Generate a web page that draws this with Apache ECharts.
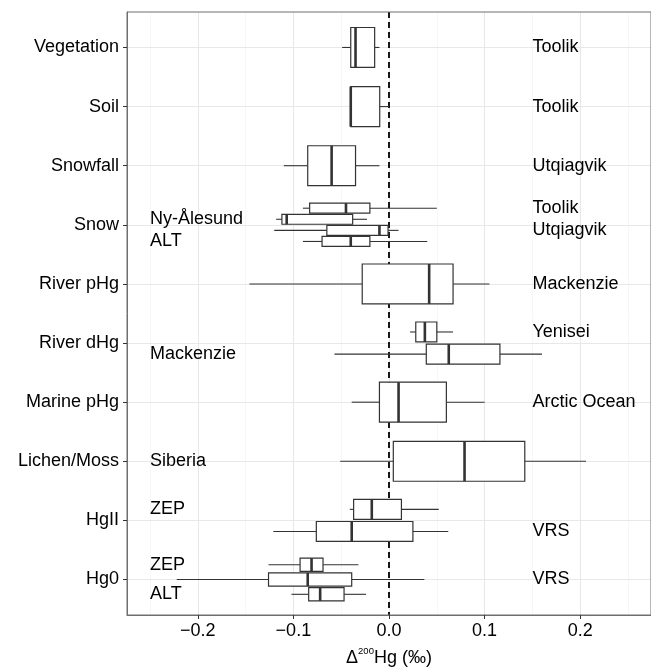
<!DOCTYPE html>
<html>
<head>
<meta charset="utf-8">
<script src="https://cdn.jsdelivr.net/npm/echarts@6/dist/echarts.min.js"></script>
<style>
  html, body { margin: 0; padding: 0; background: #fff; }
  #chart { width: 651px; height: 672px; }
</style>
</head>
<body>
<div id="chart"></div>
<script>
// sample types, top to bottom
const categories = ['Vegetation', 'Soil', 'Snowfall', 'Snow', 'River pHg', 'River dHg',
  'Marine pHg', 'Lichen/Moss', 'HgII', 'Hg0'];

// one entry per box (dodged inside its category in this order)
const boxCategory = ['Vegetation', 'Soil', 'Snowfall', 'Snow', 'Snow', 'Snow', 'Snow',
  'River pHg', 'River dHg', 'River dHg', 'Marine pHg', 'Lichen/Moss', 'HgII', 'HgII',
  'Hg0', 'Hg0', 'Hg0'];
const boxSite = ['Toolik', 'Toolik', 'Utqiagvik', 'Toolik', 'Ny-Ålesund', 'Utqiagvik', 'ALT',
  'Mackenzie', 'Yenisei', 'Mackenzie', 'Arctic Ocean', 'Siberia', 'ZEP', 'VRS',
  'ZEP', 'VRS', 'ALT'];
const boxLabelSide = ['R', 'R', 'R', 'R', 'L', 'R', 'L',
  'R', 'R', 'L', 'R', 'L', 'L', 'R',
  'L', 'R', 'L'];

// Δ200Hg (‰) box statistics
const whiskerLow    = [-0.049, -0.040, -0.110, -0.090, -0.118, -0.120, -0.090, -0.146, 0.022, -0.057, -0.039, -0.051, -0.041, -0.121, -0.126, -0.222, -0.102];
const lowerQuartile = [-0.040, -0.040, -0.085, -0.083, -0.112, -0.065, -0.070, -0.028, 0.028,  0.039, -0.010,  0.0045, -0.037, -0.076, -0.093, -0.126, -0.084];
const medianValue   = [-0.035, -0.040, -0.060, -0.045, -0.107, -0.010, -0.040,  0.042, 0.0375, 0.0625, 0.010,  0.079, -0.018, -0.039, -0.081, -0.085, -0.072];
const upperQuartile = [-0.015, -0.0097, -0.035, -0.020, -0.038, -0.001, -0.020,  0.067, 0.050,  0.116,  0.060,  0.142,  0.013,  0.025, -0.069, -0.039, -0.047];
const whiskerHigh   = [-0.010,  0.000, -0.010,  0.050, -0.023,  0.010,  0.040,  0.105, 0.067,  0.160,  0.100,  0.206,  0.052,  0.062, -0.032,  0.037, -0.024];

const xTicks = [-0.2, -0.1, 0, 0.1, 0.2];
const xMinor = [-0.25, -0.15, -0.05, 0.05, 0.15, 0.25];

const FONT = '"Liberation Sans", Arial, Helvetica, sans-serif';
const INK = '#333333';

// ggplot-style dodge: 0.75 per category split between its boxes, boxes 90% of slot
const perCat = {};
boxCategory.forEach(c => { perCat[c] = (perCat[c] || 0) + 1; });
const seen = {};
const boxData = boxCategory.map((c, i) => {
  const n = perCat[c];
  const k = seen[c] = (seen[c] === undefined ? 0 : seen[c] + 1);
  const slot = 0.75 / n;
  const y = categories.indexOf(c) + (k - (n - 1) / 2) * slot;
  return [whiskerLow[i], lowerQuartile[i], medianValue[i], upperQuartile[i], whiskerHigh[i], y, slot * 0.45, i];
});

const gridLines = []
  .concat(xMinor.map(v => ({ xAxis: v, lineStyle: { color: '#f1f1f1', width: 0.6, type: 'solid' } })))
  .concat(xTicks.map(v => ({ xAxis: v, lineStyle: { color: '#e8e8e8', width: 1.1, type: 'solid' } })))
  .concat(categories.map((c, i) => ({ yAxis: i, lineStyle: { color: '#e8e8e8', width: 1.1, type: 'solid' } })))
  .concat([{ xAxis: 0, lineStyle: { color: '#000', width: 1.8, type: [6, 4] } }]);

const chart = echarts.init(document.getElementById('chart'));

chart.setOption({
  animation: false,
  backgroundColor: '#fff',
  grid: {
    left: 127, top: 12, width: 526, height: 606,
    show: true, borderColor: '#6e6e6e', borderWidth: 1, z: 20
  },
  xAxis: {
    type: 'value',
    min: -0.274, max: 0.274,
    z: 20,
    axisLine: { show: true, onZero: false, lineStyle: { color: '#6e6e6e', width: 1 } },
    axisTick: { show: true, length: 4, customValues: xTicks, lineStyle: { color: INK } },
    axisLabel: {
      customValues: xTicks,
      margin: 7,
      fontSize: 18, fontFamily: FONT, color: '#000',
      formatter: v => (Math.abs(v) < 1e-9 ? '0.0' : (v < 0 ? '\u2212' : '') + Math.abs(v).toFixed(1))
    },
    splitLine: { show: false },
    name: '{d|Δ}{s|200}{d|Hg (‰)}',
    nameLocation: 'middle',
    nameGap: 31,
    nameTextStyle: {
      rich: {
        d: { fontSize: 18, lineHeight: 24, fontFamily: FONT, color: '#000' },
        s: { fontSize: 9.5, lineHeight: 11, fontFamily: FONT, color: '#000', verticalAlign: 'top' }
      }
    }
  },
  yAxis: {
    type: 'value',
    inverse: true,
    min: -0.6, max: 9.6,
    z: 20,
    axisLine: { show: true, onZero: false, lineStyle: { color: '#6e6e6e', width: 1 } },
    axisTick: { show: true, length: 4, customValues: categories.map((c, i) => i), lineStyle: { color: INK } },
    axisLabel: {
      customValues: categories.map((c, i) => i),
      margin: 8,
      fontSize: 18, fontFamily: FONT, color: '#000',
      formatter: v => categories[Math.round(v)]
    },
    splitLine: { show: false }
  },
  series: [
    {
      type: 'line',
      data: [],
      silent: true,
      markLine: {
        z: 1,
        silent: true,
        symbol: ['none', 'none'],
        label: { show: false },
        emphasis: { disabled: true },
        data: gridLines
      }
    },
    {
      type: 'custom',
      z: 10,
      silent: true,
      data: boxData,
      encode: { x: [0, 1, 2, 3, 4], y: 5 },
      renderItem(params, api) {
        const y = api.value(5), h = api.value(6), idx = api.value(7);
        const cy = api.coord([0, y])[1];
        const top = api.coord([0, y - h])[1];
        const bot = api.coord([0, y + h])[1];
        const xs = [0, 1, 2, 3, 4].map(j => api.coord([api.value(j), y])[0]);
        const lx = api.coord([boxLabelSide[idx] === 'L' ? -0.25 : 0.15, y])[0];
        const children = [
          { type: 'line', shape: { x1: xs[0], y1: cy, x2: xs[1], y2: cy }, style: { stroke: INK, lineWidth: 1.1 } },
          { type: 'line', shape: { x1: xs[3], y1: cy, x2: xs[4], y2: cy }, style: { stroke: INK, lineWidth: 1.1 } },
          { type: 'rect', shape: { x: xs[1], y: Math.min(top, bot), width: xs[3] - xs[1], height: Math.abs(bot - top) },
            style: { fill: '#fff', stroke: INK, lineWidth: 1.2 } },
          { type: 'line', shape: { x1: xs[2], y1: top, x2: xs[2], y2: bot }, style: { stroke: INK, lineWidth: 2.6 } },
          { type: 'text', x: lx, y: cy,
            style: { text: boxSite[idx], fontSize: 18, fontFamily: FONT, fill: '#000', align: 'left', verticalAlign: 'middle' } }
        ];
        return { type: 'group', children };
      }
    }
  ]
});
</script>
</body>
</html>
